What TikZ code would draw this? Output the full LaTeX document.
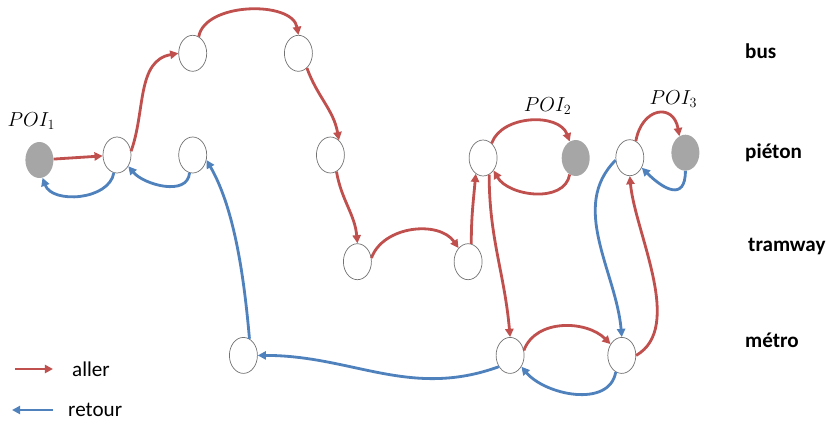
\documentclass[tikz,border=0pt]{standalone}
\usepackage{fontspec}
\setmainfont{Carlito}
\usetikzlibrary{positioning, arrows.meta, shapes.geometric}
\definecolor{allerRed}{HTML}{C0504D}
\definecolor{retourBlue}{HTML}{4F81BD}

\begin{document}
\begin{tikzpicture}[
    sNode/.style={ellipse, draw=black!55, line width=0.6pt, fill=white, minimum width=8.4mm, minimum height=10.8mm, inner sep=0pt},
    pNode/.style={ellipse, fill=black!35, minimum width=8.4mm, minimum height=10.8mm, inner sep=0pt},
    aller/.style={draw=allerRed, line width=2.4pt, -{Triangle[length=7pt, width=7pt]}},
    retour/.style={draw=retourBlue, line width=2.4pt, -{Triangle[length=7pt, width=7pt]}},
    mode/.style={font=\fontsize{18}{20}\selectfont\bfseries, text height=1.6ex, text depth=.45ex, inner sep=0pt},
    lText/.style={font=\fontsize{18}{20}\selectfont, inner sep=0pt},
    poiText/.style={font=\fontsize{17}{20}\selectfont, inner sep=0pt}
]
    \useasboundingbox (0,0) rectangle (24.9,12.72);

    % pieton / bus / tram / metro stops
    \node[sNode] (A) at (3.51,8.07) {};
    \node[pNode, left=1.47cm of A, yshift=-0.15cm] (POI1) {};
    \node[sNode, right=1.41cm of A] (B) {};
    \node[sNode, above=1.95cm of B] (Bus1) {};
    \node[sNode, right=2.31cm of Bus1] (Bus2) {};
    \node[sNode, right=3.27cm of B] (C) {};
    \node[sNode, below=2.1cm of C, xshift=0.81cm] (T1) {};
    \node[sNode, right=2.46cm of T1] (T2) {};
    \node[sNode, above=2.01cm of T2, xshift=0.45cm] (P2) {};
    \node[pNode, right=1.92cm of P2] (POI2) {};
    \node[sNode, below=1.71cm of T2, xshift=1.26cm] (M1) {};
    \node[sNode, right=2.49cm of M1] (M2) {};
    \node[sNode, left=7.14cm of M1] (M0) {};
    \node[sNode, above=4.83cm of M2, xshift=0.24cm] (P3) {};
    \node[pNode, right=0.81cm of P3, yshift=0.15cm] (POI3) {};

    \node[poiText, above=0.35cm of POI1, xshift=-0.24cm] (L1) {$POI_1$};
    \node[poiText, above=0.75cm of POI2, xshift=-0.84cm] (L2) {$POI_2$};
    \node[poiText, above=0.8cm of POI3, xshift=-0.36cm] (L3) {$POI_3$};

    % modes
    \node[mode, anchor=west] (bus) at (22.35,11.07) {bus};
    \node[mode, below=3cm of bus.west, anchor=west] (pieton) {piéton};
    \node[mode, below=2.79cm of pieton.west, anchor=west, xshift=0.09cm] (tram) {tramway};
    \node[mode, below=2.88cm of tram.west, anchor=west, xshift=-0.09cm] (metro) {métro};

    % aller
    \path[aller] (POI1) -- (A);
    \path[aller] (A.15) to[out=70, in=190] (Bus1.west);
    \path[aller] (Bus1.70) to[out=80, in=100, looseness=0.9] (Bus2.north);
    \path[aller] (Bus2.-60) to[out=-70, in=100] (C.60);
    \path[aller] (C.-70) to[out=-80, in=95] (T1.north);
    \path[aller] (T1.15) to[out=70, in=125] (T2.125);
    \path[aller] (T2.80) to[out=90, in=-95] (P2.-115);
    \path[aller] (P2.60) to[out=70, in=110] (POI2.110);
    \path[aller] (POI2.-110) to[out=-100, in=-60] (P2.-50);
    \path[aller] (P2.-70) to[out=-90, in=95] (M1.north);
    \path[aller] (M1.20) to[out=70, in=135] (M2.135);
    \path[aller] (M2.east) to[out=30, in=-85, looseness=0.8] (P3.south);
    \path[aller] (P3.70) to[out=80, in=100, looseness=2] (POI3.110);

    % retour
    \path[retour] (A.-100) to[out=-100, in=-70] (POI1.-80);
    \path[retour] (B.-100) to[out=-95, in=-50] (A.-45);
    \path[retour] (M0.70) to[out=95, in=-60, looseness=0.8] (B.-20);
    \path[retour] (M1.-135) to[out=-160, in=0] (M0.east);
    \path[retour] (M2.-110) to[out=-100, in=-50] (M1.-45);
    \path[retour] (P3.190) to[out=-135, in=95, looseness=0.95] (M2.north);
    \path[retour] (POI3.-90) to[out=-90, in=-45, looseness=1.8] (P3.-40);

    % legend
    \coordinate (la1) at (0.45,1.65);
    \coordinate (la2) at (1.59,1.65);
    \coordinate (lr1) at (1.59,0.42);
    \coordinate (lr2) at (0.36,0.42);
    \path[aller] (la1) -- (la2);
    \path[retour] (lr1) -- (lr2);
    \node[lText, right=0.57cm of la2] (allerT) {aller};
    \node[lText, right=0.45cm of lr1] (retourT) {retour};
\end{tikzpicture}
\end{document}
